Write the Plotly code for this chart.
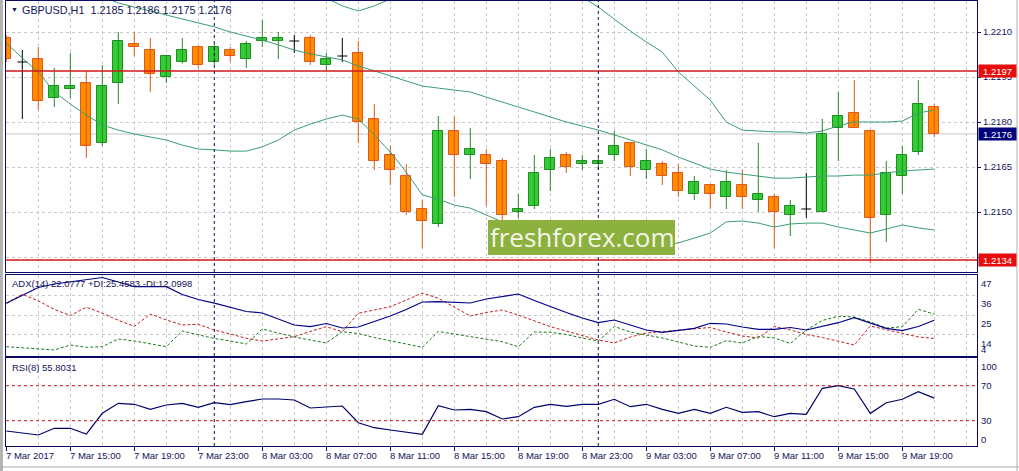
import plotly.graph_objects as go

# ---------------- data ----------------
bar_index = list(range(59))  # hourly bars, 7 Mar 2017 11:00 ... 9 Mar 21:00

open_ = [1.22080, 1.22000, 1.22010, 1.21880, 1.21910, 1.21930, 1.21730, 1.21930, 1.22060, 1.22040,
         1.21950, 1.22000, 1.22050, 1.22000, 1.22040, 1.22010, 1.22070, 1.22070, 1.22070, 1.22080,
         1.21990, 1.22020, 1.22030, 1.21810, 1.21690, 1.21620, 1.21510, 1.21460, 1.21770, 1.21690,
         1.21690, 1.21670, 1.21500, 1.21520, 1.21640, 1.21690, 1.21660, 1.21660, 1.21690, 1.21730,
         1.21640, 1.21660, 1.21630, 1.21560, 1.21590, 1.21550, 1.21590, 1.21540, 1.21550, 1.21490,
         1.21510, 1.21500, 1.21780, 1.21830, 1.21770, 1.21490, 1.21620, 1.21700, 1.21850]
high = [1.22090, 1.22040, 1.22050, 1.21980, 1.22030, 1.21970, 1.21990, 1.22100, 1.22100, 1.22080,
        1.22020, 1.22080, 1.22050, 1.22060, 1.22050, 1.22070, 1.22140, 1.22100, 1.22090, 1.22090,
        1.22030, 1.22080, 1.22070, 1.21860, 1.21720, 1.21660, 1.21540, 1.21820, 1.21820, 1.21780,
        1.21710, 1.21680, 1.21560, 1.21690, 1.21710, 1.21700, 1.21690, 1.21680, 1.21770, 1.21730,
        1.21710, 1.21670, 1.21660, 1.21620, 1.21590, 1.21640, 1.21640, 1.21730, 1.21560, 1.21540,
        1.21630, 1.21810, 1.21900, 1.21940, 1.21770, 1.21670, 1.21720, 1.21940, 1.21860]
low = [1.22000, 1.21810, 1.21840, 1.21850, 1.21880, 1.21680, 1.21720, 1.21860, 1.22020, 1.21900,
       1.21930, 1.21995, 1.21980, 1.21990, 1.22000, 1.21980, 1.22050, 1.22010, 1.22030, 1.21990,
       1.21970, 1.22000, 1.21730, 1.21640, 1.21590, 1.21490, 1.21380, 1.21450, 1.21550, 1.21610,
       1.21520, 1.21470, 1.21480, 1.21510, 1.21570, 1.21630, 1.21640, 1.21640, 1.21670, 1.21620,
       1.21610, 1.21590, 1.21550, 1.21540, 1.21510, 1.21510, 1.21510, 1.21500, 1.21380, 1.21420,
       1.21480, 1.21500, 1.21670, 1.21780, 1.21330, 1.21400, 1.21560, 1.21690, 1.21750]
close = [1.22010, 1.22000, 1.21870, 1.21920, 1.21920, 1.21720, 1.21920, 1.22070, 1.22050, 1.21960,
         1.22020, 1.22040, 1.21990, 1.22050, 1.22020, 1.22060, 1.22080, 1.22080, 1.22070, 1.22000,
         1.22010, 1.22020, 1.21800, 1.21670, 1.21640, 1.21500, 1.21470, 1.21770, 1.21690, 1.21710,
         1.21660, 1.21490, 1.21510, 1.21630, 1.21680, 1.21650, 1.21670, 1.21670, 1.21720, 1.21650,
         1.21670, 1.21620, 1.21570, 1.21600, 1.21560, 1.21600, 1.21550, 1.21560, 1.21500, 1.21520,
         1.21510, 1.21760, 1.21820, 1.21780, 1.21480, 1.21630, 1.21690, 1.21860, 1.21760]

bb_upper = [1.22650, 1.22653, 1.22647, 1.22660, 1.22653, 1.22650, 1.22643, 1.22620, 1.22607, 1.22590,
            1.22573, 1.22563, 1.22550, 1.22527, 1.22497, 1.22470, 1.22430, 1.22373, 1.22307, 1.22260,
            1.22213, 1.22187, 1.22170, 1.22187, 1.22210, 1.22240, 1.22283, 1.22283, 1.22290, 1.22287,
            1.22277, 1.22267, 1.22253, 1.22240, 1.22233, 1.22227, 1.22217, 1.22183, 1.22143, 1.22103,
            1.22067, 1.22033, 1.21967, 1.21920, 1.21873, 1.21800, 1.21773, 1.21770, 1.21767, 1.21767,
            1.21763, 1.21770, 1.21787, 1.21800, 1.21800, 1.21800, 1.21803, 1.21830, 1.21840]
bb_mid = [1.22357, 1.22333, 1.22307, 1.22280, 1.22257, 1.22237, 1.22217, 1.22197, 1.22183, 1.22170,
          1.22157, 1.22143, 1.22130, 1.22117, 1.22100, 1.22087, 1.22073, 1.22057, 1.22040, 1.22027,
          1.22017, 1.22007, 1.21987, 1.21970, 1.21953, 1.21937, 1.21920, 1.21913, 1.21907, 1.21900,
          1.21883, 1.21867, 1.21850, 1.21833, 1.21817, 1.21800, 1.21787, 1.21773, 1.21757, 1.21740,
          1.21723, 1.21707, 1.21683, 1.21663, 1.21643, 1.21633, 1.21627, 1.21620, 1.21613, 1.21613,
          1.21617, 1.21620, 1.21620, 1.21623, 1.21623, 1.21630, 1.21637, 1.21640, 1.21643]
bb_lower = [1.22063, 1.22013, 1.21967, 1.21900, 1.21860, 1.21823, 1.21790, 1.21773, 1.21760, 1.21750,
            1.21740, 1.21723, 1.21710, 1.21707, 1.21703, 1.21703, 1.21717, 1.21740, 1.21773, 1.21793,
            1.21810, 1.21823, 1.21810, 1.21757, 1.21700, 1.21633, 1.21557, 1.21543, 1.21523, 1.21513,
            1.21490, 1.21467, 1.21447, 1.21433, 1.21417, 1.21403, 1.21393, 1.21380, 1.21373, 1.21377,
            1.21383, 1.21390, 1.21397, 1.21413, 1.21430, 1.21467, 1.21470, 1.21463, 1.21450, 1.21460,
            1.21463, 1.21463, 1.21450, 1.21440, 1.21430, 1.21443, 1.21457, 1.21447, 1.21440]

adx = [31.43, 35.72, 40.12, 42.05, 43.31, 44.52, 45.62, 43.15, 40.56, 40.56,
       40.56, 36.27, 33.52, 31.49, 29.12, 26.92, 26.10, 22.80, 19.50, 18.56,
       20.32, 17.85, 18.40, 21.42, 24.45, 28.02, 32.15, 32.31, 31.87, 31.60,
       33.80, 35.17, 36.55, 32.97, 29.56, 26.37, 23.35, 20.76, 22.25, 19.50,
       16.75, 15.48, 16.47, 17.68, 20.43, 20.05, 18.40, 17.13, 17.13, 18.12,
       16.75, 18.67, 20.76, 23.51, 20.60, 17.68, 16.36, 18.67, 22.08]
plus_di = [7.56, 6.85, 6.30, 5.75, 8.50, 7.23, 7.56, 11.80, 10.70, 9.05,
           7.56, 16.20, 14.00, 12.07, 10.70, 9.05, 17.30, 15.10, 12.90, 11.25,
           9.60, 15.81, 14.82, 12.62, 10.70, 9.05, 7.23, 15.92, 14.55, 13.06,
           11.80, 10.31, 7.56, 15.65, 15.48, 14.27, 12.35, 10.70, 18.67, 15.65,
           14.00, 12.35, 10.15, 7.95, 7.23, 10.86, 9.60, 13.17, 12.35, 9.32,
           16.75, 21.97, 24.28, 23.90, 21.15, 17.85, 18.56, 28.13, 25.46]
minus_di = [31.43, 36.38, 32.75, 28.10, 24.70, 29.30, 26.00, 22.10, 18.70, 25.55,
            22.25, 19.50, 19.88, 16.75, 14.55, 12.18, 10.70, 11.90, 13.06, 15.97,
            18.56, 15.80, 25.93, 27.75, 29.56, 33.25, 37.10, 34.18, 29.12, 24.45,
            26.37, 27.75, 25.00, 21.70, 18.56, 16.20, 13.72, 11.25, 9.60, 12.90,
            15.10, 15.92, 16.75, 17.30, 18.12, 15.65, 13.45, 12.35, 18.67, 16.75,
            14.27, 12.62, 10.70, 8.50, 18.95, 17.02, 15.10, 12.90, 12.10]
rsi = [18.23, 15.94, 13.66, 21.31, 21.31, 14.80, 38.46, 49.89, 48.74, 43.03,
       47.94, 49.89, 45.31, 50.57, 48.29, 51.71, 54.80, 54.80, 53.66, 44.51,
       46.00, 46.80, 27.71, 22.00, 19.37, 17.09, 14.46, 47.14, 42.23, 43.03,
       40.29, 31.94, 34.57, 45.31, 48.74, 46.46, 48.74, 48.74, 54.46, 46.00,
       48.74, 43.03, 38.46, 43.03, 38.46, 45.31, 39.60, 40.29, 34.57, 38.46,
       37.31, 67.03, 70.00, 66.23, 38.46, 50.57, 54.46, 63.14, 55.80]

time_tick_pos = [0, 4, 8, 12, 16, 20, 24, 28, 32, 36, 40, 44, 48, 52, 56]
time_tick_text = ["7 Mar 2017", "7 Mar 15:00", "7 Mar 19:00", "7 Mar 23:00",
                  "8 Mar 03:00", "8 Mar 07:00", "8 Mar 11:00", "8 Mar 15:00",
                  "8 Mar 19:00", "8 Mar 23:00", "9 Mar 03:00", "9 Mar 07:00",
                  "9 Mar 11:00", "9 Mar 15:00", "9 Mar 19:00"]
day_separators = [13, 37]
price_ticks = [1.2135, 1.2150, 1.2165, 1.2180, 1.2195, 1.2210]
price_tick_text = ["", "1.2150", "1.2165", "1.2180", "1.2195", "1.2210"]
level_high = 1.2197
level_low = 1.2134
last_price = 1.2176
adx_grid = [36, 25, 14]
adx_labels = [47, 36, 25, 14, 4]
rsi_levels = [70, 30]
rsi_labels = [100, 70, 30, 0]
title_text = "GBPUSD,H1  1.2185 1.2186 1.2175 1.2176"
adx_text = "ADX(14) 22.0777 +DI:25.4583 -DI:12.0998"
rsi_text = "RSI(8) 55.8031"
watermark = "freshforex.com"

# ---------------- style / geometry ----------------
W, H = 1019, 471
PL, PR = 6, 977          # plot area left/right pixel
PT, PB = 1, 446          # plot area top/bottom pixel
PW, PH = PR - PL, PB - PT

def fx(px):
    return (px - PL) / PW

def fy(py):
    return (PB - py) / PH

# pixel scales of the sub-windows
ADX_TOP_PX, ADX_BOT_PX, ADX_PX_PER = 275, 356, 1.818
RSI_70_PX, RSI_PX_PER = 385.7, 0.875

def adx_px(v):
    return ADX_TOP_PX + (47 - v) * ADX_PX_PER

def rsi_px(v):
    return RSI_70_PX + (70 - v) * RSI_PX_PER

NAVY = "#0a0a64"
TEXT = "#14145a"
GRID = "#c8c8c8"
BULL_FILL, BULL_LINE = "#32cd32", "#238b23"
BEAR_FILL, BEAR_LINE = "#ff8c00", "#e2581a"
BAND = "#3a9e70"
FONT = "Liberation Sans, Arial, sans-serif"
FS = 9.5

fig = go.Figure()

# ---- main panel: candles ----
bull = [i for i in bar_index if close[i] > open_[i]]
bear = [i for i in bar_index if close[i] < open_[i]]
doji = [i for i in bar_index if close[i] == open_[i]]

def wicks(idxs):
    xs, ys = [], []
    for i in idxs:
        xs += [bar_index[i], bar_index[i], None]
        ys += [low[i], high[i], None]
    return xs, ys

for idxs, col in ((bull, BULL_LINE), (bear, BEAR_LINE)):
    wx, wy = wicks(idxs)
    fig.add_trace(go.Scatter(x=wx, y=wy, mode="lines", line=dict(color=col, width=1),
                             hoverinfo="skip", showlegend=False, xaxis="x", yaxis="y"))

BODY_W = 0.62
for idxs, fill, edge in ((bull, BULL_FILL, BULL_LINE), (bear, BEAR_FILL, BEAR_LINE)):
    fig.add_trace(go.Bar(
        x=[bar_index[i] for i in idxs],
        y=[abs(close[i] - open_[i]) for i in idxs],
        base=[min(open_[i], close[i]) for i in idxs],
        width=BODY_W,
        marker=dict(color=fill, line=dict(color=edge, width=1)),
        hoverinfo="skip", showlegend=False, xaxis="x", yaxis="y"))

dx, dy = [], []
for i in doji:
    x = bar_index[i]
    dx += [x - BODY_W / 2, x + BODY_W / 2, None, x, x, None]
    dy += [open_[i], open_[i], None, low[i], high[i], None]
fig.add_trace(go.Scatter(x=dx, y=dy, mode="lines", line=dict(color="#000000", width=1),
                         hoverinfo="skip", showlegend=False, xaxis="x", yaxis="y"))

# ---- bands ----
for band in (bb_upper, bb_mid, bb_lower):
    fig.add_trace(go.Scatter(x=bar_index, y=band, mode="lines", line=dict(color=BAND, width=1),
                             hoverinfo="skip", showlegend=False, xaxis="x", yaxis="y"))

# ---- ADX panel ----
fig.add_trace(go.Scatter(x=bar_index, y=minus_di, mode="lines",
                         line=dict(color="#c42020", width=1, dash="3px,2px"),
                         hoverinfo="skip", showlegend=False, xaxis="x2", yaxis="y2"))
fig.add_trace(go.Scatter(x=bar_index, y=plus_di, mode="lines",
                         line=dict(color="#1c7a1c", width=1, dash="3px,2px"),
                         hoverinfo="skip", showlegend=False, xaxis="x2", yaxis="y2"))
fig.add_trace(go.Scatter(x=bar_index, y=adx, mode="lines",
                         line=dict(color="#00008b", width=1.2),
                         hoverinfo="skip", showlegend=False, xaxis="x2", yaxis="y2"))

# ---- RSI panel ----
fig.add_trace(go.Scatter(x=bar_index, y=rsi, mode="lines",
                         line=dict(color="#00006e", width=1.2),
                         hoverinfo="skip", showlegend=False, xaxis="x3", yaxis="y3"))

# ---------------- axes ----------------
x_range = [(PL - (PL + 0.3)) / 16.0, (PR - (PL + 0.3)) / 16.0]
even_grid = list(range(0, 61, 2))
common_x = dict(range=x_range, showline=True, mirror=True, linecolor=NAVY, linewidth=1,
                zeroline=False, showgrid=True, gridcolor=GRID, griddash="3px,3px", gridwidth=1,
                fixedrange=True)

dom_main = [fy(272), fy(PT)]
dom_adx = [fy(ADX_BOT_PX), fy(ADX_TOP_PX)]
dom_rsi = [fy(PB), fy(358)]

main_top = 1.2210 + (32 - PT) / 30000.0
main_bot = 1.2210 - (272 - 32) / 30000.0
adx_top = 47.0
adx_bot = 47.0 - (ADX_BOT_PX - ADX_TOP_PX) / ADX_PX_PER
rsi_bot = 70 - (PB - RSI_70_PX) / RSI_PX_PER
rsi_top = 70 + (RSI_70_PX - 358) / RSI_PX_PER

fig.update_layout(
    width=W, height=H,
    margin=dict(l=PL, r=W - PR, t=PT, b=H - PB),
    paper_bgcolor="white", plot_bgcolor="white",
    barmode="overlay", bargap=0,
    showlegend=False,
    font=dict(family=FONT, size=FS, color=TEXT),
    xaxis=dict(domain=[0, 1], anchor="y", tickmode="array", tickvals=even_grid,
               showticklabels=False, ticks="", **common_x),
    xaxis2=dict(domain=[0, 1], anchor="y2", matches="x", tickmode="array", tickvals=even_grid,
                showticklabels=False, ticks="", **common_x),
    xaxis3=dict(domain=[0, 1], anchor="y3", matches="x", tickmode="array", tickvals=time_tick_pos,
                showticklabels=False, ticks="outside", ticklen=4, tickcolor=NAVY,
                minor=dict(tickmode="array", tickvals=[v for v in even_grid if v not in time_tick_pos],
                           showgrid=True, gridcolor=GRID, griddash="3px,3px", ticks=""),
                **common_x),
    yaxis=dict(domain=dom_main, anchor="x", range=[main_bot, main_top], side="right",
               tickmode="array", tickvals=price_ticks, ticktext=price_tick_text,
               ticks="outside", ticklen=3, tickcolor=NAVY,
               tickfont=dict(family=FONT, size=FS, color=TEXT),
               showgrid=True, gridcolor=GRID, griddash="3px,3px",
               showline=True, mirror=True, linecolor=NAVY, zeroline=False, fixedrange=True),
    yaxis2=dict(domain=dom_adx, anchor="x2", range=[adx_bot, adx_top], side="right",
                tickmode="array", tickvals=adx_grid, showticklabels=False, ticks="",
                showgrid=True, gridcolor=GRID, griddash="3px,3px",
                showline=True, mirror=True, linecolor=NAVY, zeroline=False, fixedrange=True),
    yaxis3=dict(domain=dom_rsi, anchor="x3", range=[rsi_bot, rsi_top], side="right",
                tickmode="array", tickvals=[], showticklabels=False, ticks="",
                showgrid=False, showline=True, mirror=True, linecolor=NAVY,
                zeroline=False, fixedrange=True),
)

# ---------------- shapes ----------------
shapes = []
shapes.append(dict(type="line", xref="x", yref="y", x0=x_range[0], x1=x_range[1],
                   y0=last_price, y1=last_price, line=dict(color="#c4c4c4", width=1), layer="below"))
for lv in (level_high, level_low):
    shapes.append(dict(type="line", xref="x", yref="y", x0=x_range[0], x1=x_range[1],
                       y0=lv, y1=lv, line=dict(color="#d01818", width=1.3), layer="above"))
for lv in rsi_levels:
    shapes.append(dict(type="line", xref="x3", yref="y3", x0=x_range[0], x1=x_range[1],
                       y0=lv, y1=lv, line=dict(color="#cc1010", width=1, dash="3px,3px"),
                       layer="above"))
for d in day_separators:
    shapes.append(dict(type="line", xref="x", yref="paper", x0=d, x1=d, y0=0, y1=1,
                       line=dict(color="#0a0a50", width=1, dash="3px,3px"), layer="above"))
shapes.append(dict(type="rect", xref="paper", yref="paper",
                   x0=fx(488), x1=fx(675), y0=fy(255), y1=fy(220),
                   fillcolor="#8db13f", line=dict(width=0), layer="above"))
shapes.append(dict(type="rect", xref="paper", yref="paper", x0=fx(0), x1=fx(3),
                   y0=fy(H), y1=fy(0), fillcolor="#b4b4b4", line=dict(width=0)))
shapes.append(dict(type="line", xref="paper", yref="paper", x0=fx(0), x1=fx(W),
                   y0=fy(467), y1=fy(467), line=dict(color="#a8a8a8", width=1)))
shapes.append(dict(type="line", xref="paper", yref="paper", x0=fx(1017), x1=fx(1017),
                   y0=fy(H), y1=fy(0), line=dict(color="#b0b0b0", width=1)))
fig.update_layout(shapes=shapes)

# ---------------- annotations ----------------
ann = []
ann.append(dict(text="▼", xref="paper", yref="paper", x=fx(9), y=fy(10), xanchor="left",
                yanchor="middle", showarrow=False, font=dict(size=7, color=TEXT)))
ann.append(dict(text=title_text.replace("  ", "\u00a0 "), xref="paper", yref="paper",
                x=fx(20), y=fy(10), xanchor="left", yanchor="middle", showarrow=False,
                font=dict(family=FONT, size=10.8, color=TEXT)))
ann.append(dict(text=adx_text, xref="paper", yref="paper", x=fx(10), y=fy(283),
                xanchor="left", yanchor="middle", showarrow=False,
                font=dict(family=FONT, size=FS, color=TEXT)))
ann.append(dict(text=rsi_text, xref="paper", yref="paper", x=fx(10), y=fy(367),
                xanchor="left", yanchor="middle", showarrow=False,
                font=dict(family=FONT, size=FS, color=TEXT)))

for pos, txt in zip(time_tick_pos, time_tick_text):
    ann.append(dict(text=txt, xref="x3", yref="paper", x=pos, y=fy(455), xanchor="left",
                    yanchor="middle", showarrow=False, xshift=-2,
                    font=dict(family=FONT, size=FS, color=TEXT)))

# ADX scale labels: the terminal draws them just below their level, clamped to the window
for v in adx_labels:
    py = min(max(adx_px(v) + 8.5, ADX_TOP_PX + 6), ADX_BOT_PX - 7)
    ann.append(dict(text=str(v), xref="paper", yref="paper", x=1, y=fy(py), xanchor="left",
                    yanchor="middle", xshift=2, showarrow=False,
                    font=dict(family=FONT, size=FS, color=TEXT)))

# RSI scale labels: centred on their level, clamped to the window
for v in rsi_labels:
    py = min(max(rsi_px(v), 358 + 8), PB - 7)
    ann.append(dict(text=str(v), xref="paper", yref="paper", x=1, y=fy(py), xanchor="left",
                    yanchor="middle", xshift=2, showarrow=False,
                    font=dict(family=FONT, size=FS, color=TEXT)))

for v, bg in ((level_high, "#e80c0c"), (last_price, "#00007a"), (level_low, "#e80c0c")):
    ann.append(dict(text=f"{v:.4f}", xref="paper", yref="y", x=1, y=v, xanchor="left",
                    yanchor="middle", xshift=1, showarrow=False, bgcolor=bg, borderpad=0,
                    width=37, height=12, align="center",
                    font=dict(family=FONT, size=FS, color="white")))

ann.append(dict(text=watermark, xref="paper", yref="paper", x=fx(582), y=fy(237),
                xanchor="center", yanchor="middle", showarrow=False,
                font=dict(family="Open Sans, sans-serif", size=26, color="#f3f5e6")))

fig.update_layout(annotations=ann)

fig.write_html("out.html", config={"displayModeBar": False},
               post_script="document.body.style.margin='0';document.body.style.padding='0';"
                           "document.body.style.overflow='hidden';")
